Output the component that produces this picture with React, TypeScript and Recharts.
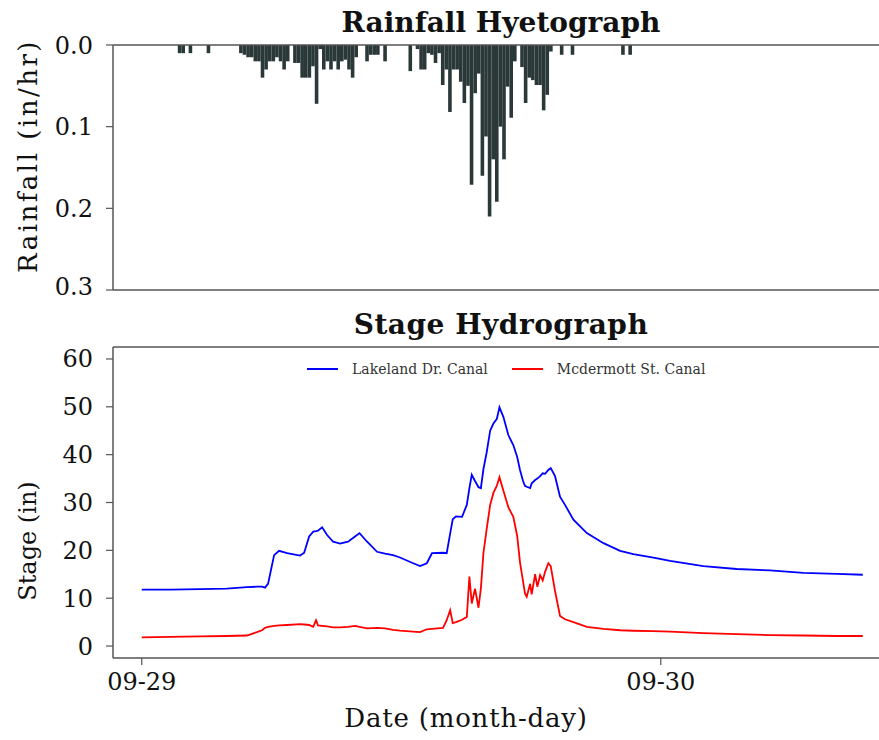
import {
  BarChart,
  Bar,
  LineChart,
  Line,
  XAxis,
  YAxis,
  Legend,
  ReferenceLine,
} from "recharts";

const serif = '"DejaVu Serif", "Liberation Serif", serif';
const spine = "#555";

// -------------------------
// RAINFALL (10-min totals, hours from 09-29 00:00)
// -------------------------
const rainStartHour = 1.75;
const rainStepHour = 1 / 6;
const rainfall = [
  0.01, 0.01, 0, 0.01, 0, 0, 0, 0, 0.01, 0,
  0, 0, 0, 0, 0, 0, 0, 0.01, 0.012, 0.015,
  0.015, 0.02, 0.02, 0.04, 0.03, 0.02, 0.02, 0.015, 0.02, 0.03,
  0.02, 0, 0.022, 0.022, 0.04, 0.04, 0.04, 0.026, 0.072, 0.005,
  0.03, 0.02, 0.03, 0.02, 0.03, 0.02, 0.018, 0.03, 0.04, 0.015,
  0, 0, 0.02, 0.012, 0.012, 0.012, 0, 0.02, 0, 0,
  0, 0, 0, 0, 0.032, 0, 0.005, 0.03, 0.03, 0.01,
  0.012, 0.022, 0.01, 0.049, 0.03, 0.082, 0.03, 0.03, 0.045, 0.071,
  0.05, 0.171, 0.059, 0.035, 0.16, 0.112, 0.21, 0.14, 0.192, 0.1,
  0.14, 0.051, 0.089, 0.02, 0, 0.027, 0.071, 0.04, 0.043, 0.049,
  0.049, 0.08, 0.061, 0.008, 0, 0, 0.012, 0, 0, 0.012,
  0, 0, 0, 0, 0, 0, 0, 0, 0, 0,
  0, 0, 0, 0.012, 0, 0.012,
];

// -------------------------
// STAGE (in), hours from 09-29 00:00
// -------------------------
const stageHours = [
  0.0, 1.31, 2.7, 3.93, 4.86, 5.32, 5.56, 5.7, 5.84, 5.98,
  6.12, 6.35, 6.72, 7.32, 7.51, 7.74, 7.93, 8.06, 8.15, 8.34,
  8.57, 8.85, 9.17, 9.54, 9.86, 10.07, 10.42, 10.88, 11.25, 11.62,
  11.94, 12.55, 12.87, 13.18, 13.42, 13.93, 14.1, 14.26, 14.38, 14.53,
  14.81, 15.03, 15.15, 15.26, 15.41, 15.57, 15.68, 15.8, 15.95, 16.11,
  16.26, 16.42, 16.54, 16.72, 16.95, 17.18, 17.36, 17.49, 17.63, 17.72,
  17.8, 17.96, 18.03, 18.19, 18.29, 18.42, 18.54, 18.65, 18.8, 18.91,
  19.11, 19.34, 19.57, 19.96, 20.58, 21.35, 22.12, 22.73, 23.66, 24.43,
  25.97, 27.51, 29.05, 30.59, 32.14, 33.34,
];
const lakeland = [
  11.8, 11.8, 11.9, 12.0, 12.3, 12.4, 12.4, 12.2, 13.0, 16.0,
  19.0, 19.9, 19.4, 18.9, 19.5, 22.9, 23.9, 24.0, 24.1, 24.8,
  23.2, 21.8, 21.4, 21.8, 22.9, 23.6, 21.8, 19.7, 19.3, 19.0,
  18.5, 17.3, 16.7, 17.3, 19.4, 19.5, 19.4, 23.5, 26.5, 27.1,
  27.0, 29.5, 33.0, 35.8, 34.5, 33.2, 33.0, 37.0, 40.5, 45.0,
  46.5, 47.5, 49.9, 47.9, 44.1, 42.0, 39.5, 36.8, 34.5, 33.5,
  33.3, 33.0, 34.0, 34.7, 35.0, 35.5, 36.1, 36.0, 36.8, 37.2,
  35.5, 31.2, 29.5, 26.4, 23.6, 21.5, 19.9, 19.2, 18.5, 17.8,
  16.7, 16.1, 15.8, 15.3, 15.1, 14.9,
];
const mcdermott = [
  1.8, 1.9, 2.0, 2.1, 2.2, 2.9, 3.3, 3.8, 4.0, 4.1,
  4.2, 4.3, 4.4, 4.6, 4.5, 4.4, 4.0, 5.4, 4.3, 4.2,
  4.1, 3.9, 3.9, 4.0, 4.2, 4.0, 3.7, 3.8, 3.7, 3.4,
  3.2, 3.0, 2.9, 3.5, 3.6, 3.8, 5.4, 7.5, 4.8, 5.0,
  5.5, 6.1, 14.5, 8.9, 12.0, 8.0, 12.0, 19.5, 24.5, 29.5,
  32.0, 33.5, 35.3, 32.5, 29.0, 27.0, 23.0, 17.5, 13.5, 11.0,
  10.3, 13.0, 10.8, 15.0, 12.4, 14.8, 13.7, 15.5, 17.3, 16.7,
  11.5, 6.3, 5.6, 5.0, 4.0, 3.6, 3.3, 3.2, 3.1, 3.0,
  2.7, 2.5, 2.3, 2.2, 2.1, 2.1,
];

const rainTicks = [0, 0.1, 0.2, 0.3];
const stageTicks = [0, 10, 20, 30, 40, 50, 60];
const dateTicks = [0, 24];
const dateLabels = ["09-29", "09-30"];

// right end is where the figure is cropped
const xDomain: [number, number] = [-1.33, 34.09];
const rainDomain: [number, number] = [0, 0.3];
const stageDomain: [number, number] = [-2.5, 62.5];

const rainData = rainfall.map((v, i) => ({
  hour: rainStartHour + i * rainStepHour,
  rain: v,
}));

const stageData = stageHours.map((h, i) => ({
  hour: h,
  lakeland: lakeland[i],
  mcdermott: mcdermott[i],
}));

const tickStyle = { fill: "#111", fontSize: 24, fontFamily: serif };
const tickLineStyle = { stroke: spine, strokeWidth: 1.2 };
const axisLineStyle = { stroke: spine, strokeWidth: 1.5 };

const renderLegend = (props: any) => {
  const { payload } = props;
  return (
    <div
      style={{
        display: "flex",
        alignItems: "center",
        fontFamily: serif,
        fontSize: 14,
        color: "#333",
      }}
    >
      {(payload ?? []).map((p: any) => (
        <div
          key={p.value}
          style={{ display: "flex", alignItems: "center", marginRight: 24 }}
        >
          <span
            style={{
              display: "inline-block",
              width: 31,
              height: 2,
              background: p.color,
              marginRight: 14,
            }}
          />
          <span>{p.value}</span>
        </div>
      ))}
    </div>
  );
};

const textBase = {
  position: "absolute" as const,
  fontFamily: serif,
  color: "#111",
  whiteSpace: "nowrap" as const,
  lineHeight: 1,
};

export default function App() {
  return (
    <div
      style={{
        position: "absolute",
        left: 0,
        top: 0,
        width: 879,
        height: 740,
        overflow: "hidden",
        background: "#fff",
      }}
    >
      {/* HYETOGRAPH */}
      <div style={{ position: "absolute", left: 0, top: 0, width: 879, height: 300 }}>
        <BarChart
          width={879}
          height={300}
          data={rainData}
          margin={{ top: 45, right: 0, bottom: 10, left: 0 }}
          barCategoryGap={0}
        >
          <XAxis
            dataKey="hour"
            type="number"
            domain={xDomain}
            allowDataOverflow
            hide
          />
          <YAxis
            type="number"
            domain={rainDomain}
            ticks={rainTicks}
            reversed
            width={113}
            axisLine={axisLineStyle}
            tickLine={tickLineStyle}
            tickSize={7}
            tickMargin={13}
            tick={tickStyle}
            tickFormatter={(v: number) => v.toFixed(1)}
          />
          <Bar
            dataKey="rain"
            fill="#2a3838"
            barSize={3.6}
            isAnimationActive={false}
          />
          <ReferenceLine y={rainDomain[0]} stroke={spine} strokeWidth={1.5} ifOverflow="visible" />
          <ReferenceLine y={rainDomain[1]} stroke={spine} strokeWidth={1.5} ifOverflow="visible" />
        </BarChart>
      </div>

      {/* HYDROGRAPH */}
      <div style={{ position: "absolute", left: 0, top: 300, width: 879, height: 440 }}>
        <LineChart
          width={879}
          height={440}
          data={stageData}
          margin={{ top: 47, right: 0, bottom: 0, left: 0 }}
        >
          <XAxis
            dataKey="hour"
            type="number"
            domain={xDomain}
            allowDataOverflow
            ticks={dateTicks}
            tickFormatter={(h: number) => dateLabels[dateTicks.indexOf(h)] ?? ""}
            height={82}
            axisLine={axisLineStyle}
            tickLine={tickLineStyle}
            tickSize={7}
            tickMargin={8}
            tick={tickStyle}
          />
          <YAxis
            type="number"
            domain={stageDomain}
            ticks={stageTicks}
            allowDataOverflow
            width={113}
            axisLine={axisLineStyle}
            tickLine={tickLineStyle}
            tickSize={7}
            tickMargin={13}
            tick={tickStyle}
          />
          <Legend
            layout="horizontal"
            verticalAlign="middle"
            align="center"
            content={renderLegend}
            wrapperStyle={{ top: 61, left: 307, width: 540 }}
          />
          <Line
            type="linear"
            dataKey="lakeland"
            name="Lakeland Dr. Canal"
            stroke="#0000ff"
            strokeWidth={1.8}
            dot={false}
            isAnimationActive={false}
          />
          <Line
            type="linear"
            dataKey="mcdermott"
            name="Mcdermott St. Canal"
            stroke="#ff0000"
            strokeWidth={1.8}
            dot={false}
            isAnimationActive={false}
          />
          <ReferenceLine y={stageDomain[1]} stroke={spine} strokeWidth={1.5} ifOverflow="visible" />
        </LineChart>
      </div>

      {/* titles */}
      <div
        style={{
          ...textBase,
          left: 201,
          width: 600,
          top: 9,
          textAlign: "center",
          fontSize: 28,
          fontWeight: "bold",
        }}
      >
        Rainfall Hyetograph
      </div>
      <div
        style={{
          ...textBase,
          left: 201,
          width: 600,
          top: 311,
          textAlign: "center",
          fontSize: 28,
          fontWeight: "bold",
          letterSpacing: 0.5,
        }}
      >
        Stage Hydrograph
      </div>

      {/* axis titles */}
      <div
        style={{
          ...textBase,
          left: 28,
          top: 156,
          fontSize: 26,
          letterSpacing: 2.5,
          transform: "translate(-50%, -50%) rotate(-90deg)",
        }}
      >
        Rainfall (in/hr)
      </div>
      <div
        style={{
          ...textBase,
          left: 28,
          top: 541,
          fontSize: 24,
          transform: "translate(-50%, -50%) rotate(-90deg)",
        }}
      >
        Stage (in)
      </div>
      <div
        style={{
          ...textBase,
          left: 466,
          top: 718,
          fontSize: 26,
          letterSpacing: 0.8,
          transform: "translate(-50%, -50%)",
        }}
      >
        Date (month-day)
      </div>
    </div>
  );
}
